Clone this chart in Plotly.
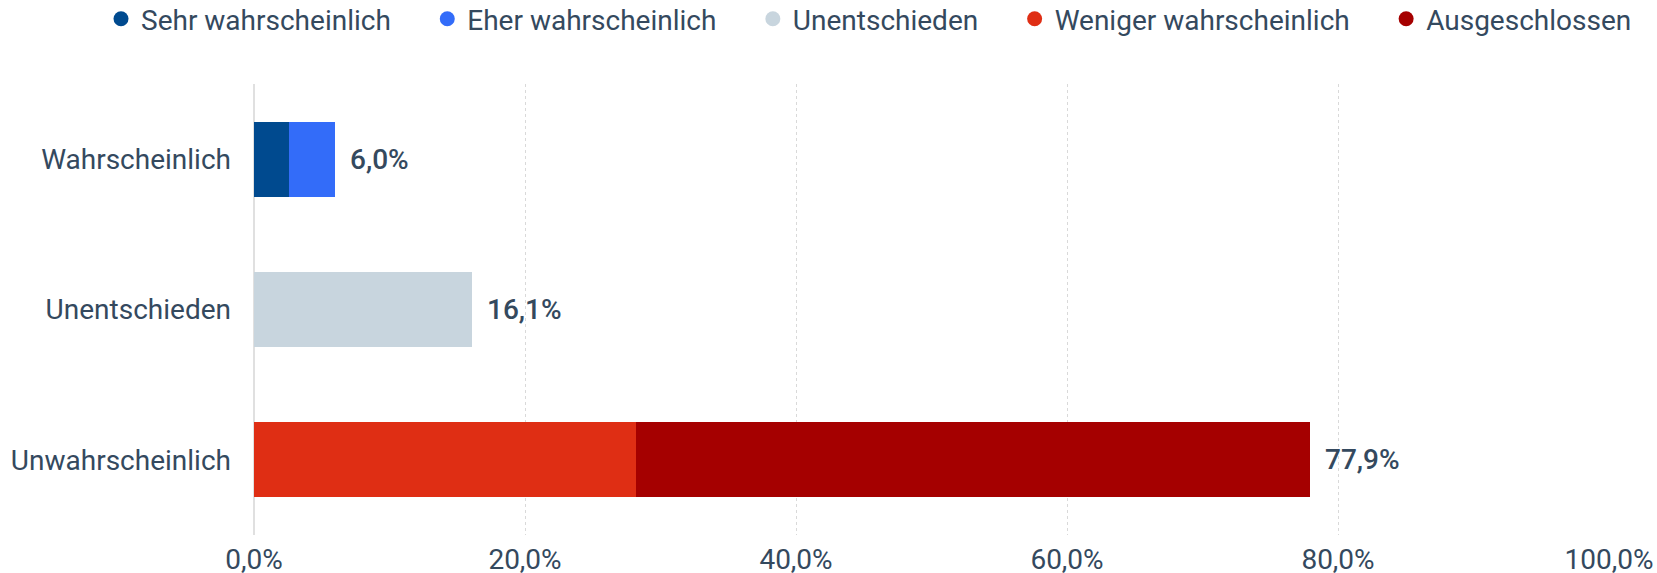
import plotly.graph_objects as go

categories = ["Wahrscheinlich", "Unentschieden", "Unwahrscheinlich"]
series_names = ["Sehr wahrscheinlich", "Eher wahrscheinlich", "Unentschieden",
                "Weniger wahrscheinlich", "Ausgeschlossen"]
sehr_wahrscheinlich = [2.6, None, None]
eher_wahrscheinlich = [3.4, None, None]
unentschieden = [None, 16.1, None]
weniger_wahrscheinlich = [None, None, 28.2]
ausgeschlossen = [None, None, 49.7]
totals = [6.0, 16.1, 77.9]
x_ticks = [0, 20, 40, 60, 80, 100]
x_tick_labels = ["0,0%", "20,0%", "40,0%", "60,0%", "80,0%", "100,0%"]

colors = ["#004A8F", "#336CF9", "#C8D5DE", "#DF2E14", "#A50000"]
series_values = [sehr_wahrscheinlich, eher_wahrscheinlich, unentschieden,
                 weniger_wahrscheinlich, ausgeschlossen]
TEXT = "#34495E"
FONT = "Roboto"
FS = 28

fig = go.Figure()
for name, vals, col in zip(series_names, series_values, colors):
    fig.add_trace(go.Bar(y=categories, x=vals, orientation="h", name=name,
                         marker=dict(color=col, line=dict(width=0)),
                         showlegend=False, hoverinfo="x+name"))
# legend entries with round markers
for i, (name, col) in enumerate(zip(series_names, colors)):
    pad = "" if i == len(series_names) - 1 else "\u2003\u200a"
    fig.add_trace(go.Scatter(x=[None], y=[None], mode="markers",
                             name=name + pad,
                             marker=dict(color=col, size=15, symbol="circle"),
                             showlegend=True))

for cat, tot in zip(categories, totals):
    fig.add_annotation(x=tot, y=cat, xref="x", yref="y",
                       text=f"{tot:.1f}".replace(".", ",") + "%",
                       showarrow=False, xanchor="left", xshift=13,
                       font=dict(family=FONT, size=FS, color=TEXT, weight=500))

L, R, T, B = 254, 48, 84, 38
W, H = 1657, 573
plot_w = W - L - R
plot_h = H - T - B

fig.update_layout(
    barmode="stack",
    bargap=0.5,
    width=W, height=H,
    margin=dict(l=L, r=R, t=T, b=B, autoexpand=False),
    paper_bgcolor="white", plot_bgcolor="white",
    font=dict(family=FONT, size=FS, color=TEXT),
    legend=dict(orientation="h", xref="paper", x=(101 - L) / plot_w, xanchor="left",
                yref="paper", y=1 + (T - 19) / plot_h, yanchor="middle",
                font=dict(family=FONT, size=FS, color=TEXT),
                itemwidth=30, traceorder="normal"),
    xaxis=dict(range=[0, 100], tickvals=x_ticks, ticktext=x_tick_labels,
               showgrid=True, gridcolor="#D9D9D9", griddash="dot", gridwidth=1,
               zeroline=True, zerolinecolor="#E0E0E0", zerolinewidth=2,
               showline=False, ticks="", ticklabelstandoff=5, automargin=False,
               tickfont=dict(family=FONT, size=FS, color=TEXT), fixedrange=True),
    yaxis=dict(categoryorder="array", categoryarray=categories, autorange="reversed",
               showgrid=False, zeroline=False, showline=False, ticks="",
               ticklabelstandoff=22, automargin=False,
               tickfont=dict(family=FONT, size=FS, color=TEXT), fixedrange=True),
)

fig.write_html("out.html", config={"displayModeBar": False},
               post_script="document.body.style.margin='0';")
